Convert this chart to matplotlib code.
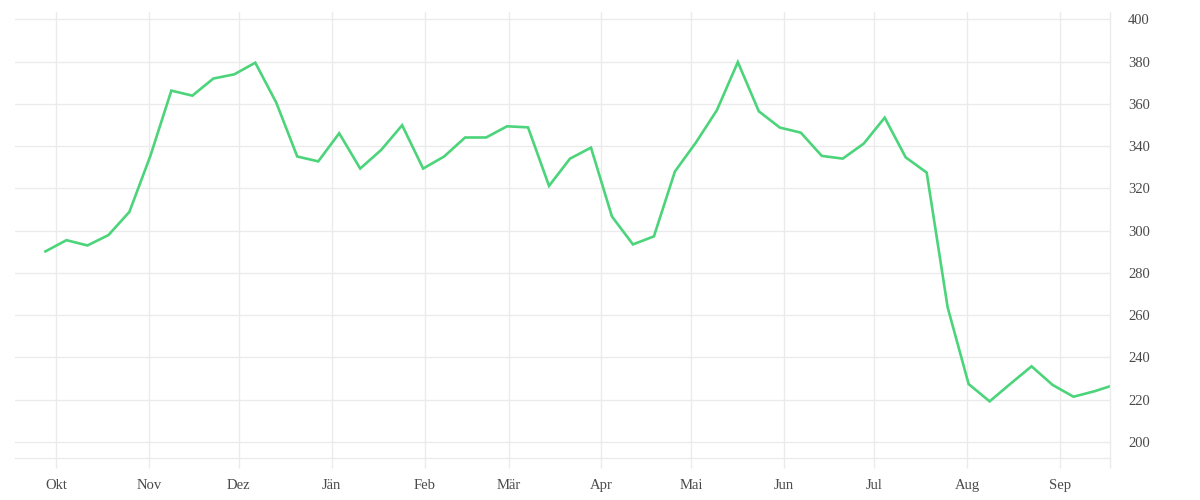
import matplotlib
matplotlib.use('Agg')

import numpy as np
import pandas as pd
import matplotlib.pyplot as plt
import matplotlib.dates as mdates
from matplotlib.ticker import FuncFormatter, MultipleLocator

# weekly values
dates = pd.date_range("2020-09-27 12:00", periods=52, freq="7D")
values = [290.2, 295.5, 293.0, 297.9, 308.9, 335.4, 366.3, 363.9, 372.0, 374.0,
          379.5, 360.6, 335.1, 332.8, 346.1, 329.4, 338.2, 349.9, 329.4, 335.1,
          344.1, 344.1, 349.4, 348.9, 321.2, 334.1, 339.3, 306.7, 293.5, 297.3,
          328.0, 341.7, 357.0, 379.8, 356.5, 348.8, 346.4, 335.4, 334.1, 341.2,
          353.5, 334.7, 327.5, 263.7, 227.4, 219.2, 227.6, 235.8, 227.0, 221.4,
          224.0, 227.2]
month_names = ["Jän", "Feb", "Mär", "Apr", "Mai", "Jun",
               "Jul", "Aug", "Sep", "Okt", "Nov", "Dez"]

GRID = "#ebebeb"
TEXT = "#4a4a4a"
LINE = "#4cd47b"

plt.rcParams['font.family'] = ['Liberation Serif', 'DejaVu Serif']

fig = plt.figure(figsize=(12, 5), dpi=100)
ax = fig.add_axes([15 / 1200, 42 / 500, 1095 / 1200, 446 / 500])

ax.plot(dates, values, color=LINE, linewidth=1.9, solid_joinstyle='miter', clip_on=True)

ax.set_xlim(pd.Timestamp("2020-09-17 08:00"), pd.Timestamp("2021-09-17 16:00"))
ax.set_ylim(192.4, 403.5)

ax.xaxis.set_major_locator(mdates.MonthLocator())
ax.xaxis.set_major_formatter(FuncFormatter(lambda v, p: month_names[mdates.num2date(v).month - 1]))
ax.set_xticks([mdates.date2num(pd.Timestamp("2021-09-17 16:00"))], minor=True)
ax.yaxis.set_major_locator(MultipleLocator(20))
ax.yaxis.tick_right()

ax.grid(True, color=GRID, linewidth=1.0)
ax.set_axisbelow(True)
for side in ["top", "left"]:
    ax.spines[side].set_visible(False)
for side in ["bottom", "right"]:
    ax.spines[side].set_color(GRID)
    ax.spines[side].set_linewidth(1.0)

ax.tick_params(axis='x', which='both', direction='out', length=7.2, width=1.0,
               color=GRID, labelcolor=TEXT, labelsize=10.5, pad=8)
ax.tick_params(axis='y', length=0, labelcolor=TEXT, labelsize=10.5, pad=13)
for lab in ax.get_yticklabels():
    lab.set_horizontalalignment('left')

fig.savefig("out.png", dpi=100)
